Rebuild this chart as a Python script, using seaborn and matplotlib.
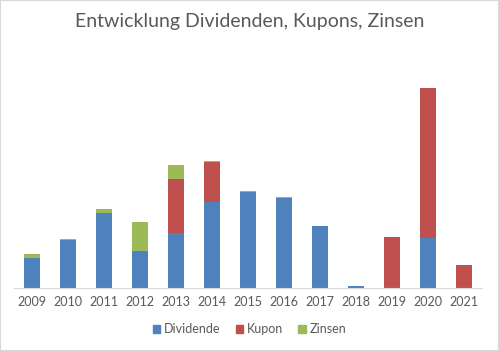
import pandas as pd
import matplotlib.pyplot as plt
import seaborn as sns
from matplotlib.patches import Patch, Rectangle

years = ['2009', '2010', '2011', '2012', '2013', '2014', '2015',
         '2016', '2017', '2018', '2019', '2020', '2021']
dividende = [30, 48, 75, 37, 55, 86, 96, 90, 62, 2, 0, 50, 0]
kupon = [0, 0, 0, 0, 54, 40, 0, 0, 0, 0, 51, 150, 23]
zinsen = [4, 1, 4, 29, 14, 1, 1, 1, 0, 0, 0, 0, 0]

df = pd.DataFrame({'Jahr': years, 'Dividende': dividende,
                   'Kupon': kupon, 'Zinsen': zinsen})
df['DK'] = df['Dividende'] + df['Kupon']
df['Total'] = df['DK'] + df['Zinsen']

blue = '#4F81BD'
red = '#C0504D'
green = '#9BBB59'
grey = '#595959'

sns.set_style('white')
plt.rcParams['font.family'] = ['Lato', 'DejaVu Sans']

fig = plt.figure(figsize=(4.99, 3.51), dpi=100)
ax = fig.add_axes([14 / 499, 63 / 351, 468 / 499, 218 / 351])

# stacked look: draw totals first, then smaller sums on top
sns.barplot(data=df, x='Jahr', y='Total', color=green, width=0.42,
            saturation=1, linewidth=0, ax=ax)
sns.barplot(data=df, x='Jahr', y='DK', color=red, width=0.42,
            saturation=1, linewidth=0, ax=ax)
sns.barplot(data=df, x='Jahr', y='Dividende', color=blue, width=0.42,
            saturation=1, linewidth=0, ax=ax)

ax.set_ylim(0, 218)
ax.set_xlim(-0.5, len(years) - 0.5)
ax.set_xlabel('')
ax.set_ylabel('')
ax.set_yticks([])
for s in ['top', 'left', 'right']:
    ax.spines[s].set_visible(False)
ax.spines['bottom'].set_color('#D9D9D9')
ax.tick_params(axis='x', length=0, labelsize=9, labelcolor=grey, pad=6)

fig.text(0.5, 1 - 22 / 351, 'Entwicklung Dividenden, Kupons, Zinsen',
         ha='center', va='center', fontsize=14, color=grey)

handles = [Patch(color=blue, label='Dividende'),
           Patch(color=red, label='Kupon'),
           Patch(color=green, label='Zinsen')]
leg = fig.legend(handles=handles, loc='center', ncol=3, frameon=False,
                 bbox_to_anchor=(0.5, 1 - 329 / 351), fontsize=9,
                 handlelength=0.6, handleheight=0.6, handletextpad=0.3,
                 columnspacing=1.2)
for t in leg.get_texts():
    t.set_color(grey)

fig.patches.append(Rectangle((0, 0), 1, 1, transform=fig.transFigure,
                             fill=False, edgecolor='#D9D9D9', lw=1.5))

fig.savefig('out.png', dpi=100)
